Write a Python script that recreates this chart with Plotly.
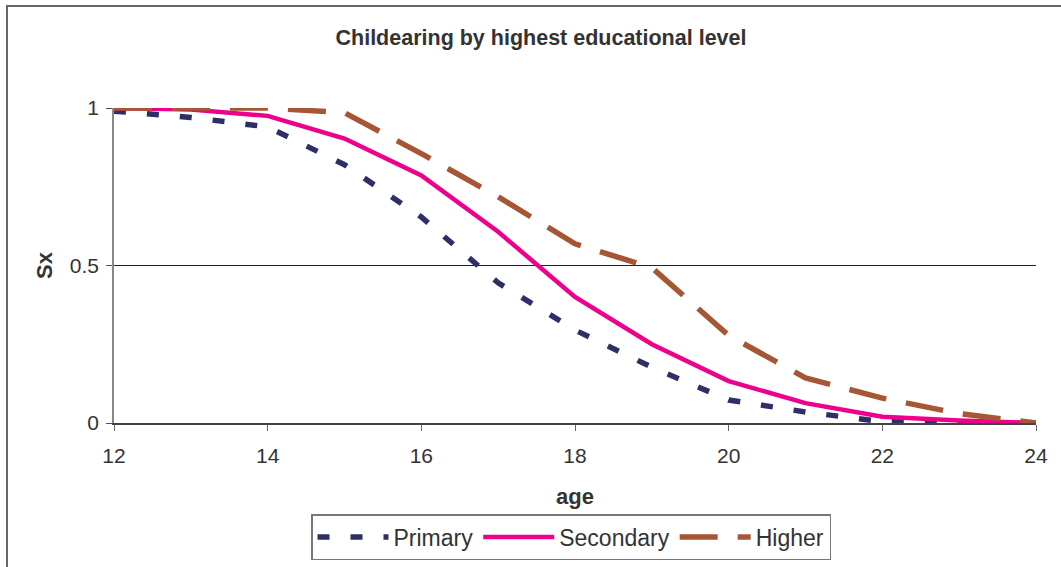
import plotly.graph_objects as go

# Survival in childlessness (Sx) by age, for each education group
ages = [12, 13, 14, 15, 16, 17, 18, 19, 20, 21, 22, 23, 24]
primary = [0.99, 0.97, 0.94, 0.82, 0.654, 0.445, 0.295, 0.177, 0.073, 0.035, 0.004, 0.0, 0.0]
secondary = [1.0, 0.995, 0.975, 0.903, 0.786, 0.607, 0.4, 0.25, 0.133, 0.063, 0.02, 0.008, 0.0]
higher = [1.0, 1.0, 1.0, 0.985, 0.855, 0.718, 0.569, 0.493, 0.278, 0.143, 0.079, 0.03, 0.0]

series = [
    ("Primary", primary, "#2E2F66", 5.5, "12px,21px"),
    ("Secondary", secondary, "#EC008C", 4.5, "solid"),
    ("Higher", higher, "#A65634", 5.5, "38px,20px"),
]

FONT = "Liberation Sans, Arial, sans-serif"
TEXT = "#333333"

fig = go.Figure()
for name, vals, color, width, dash in series:
    fig.add_trace(go.Scatter(
        x=ages, y=vals, name=name, mode="lines",
        line=dict(color=color, width=width, dash=dash),
    ))

W, H = 1061, 567
ml, mr, mt, mb = 114, 25, 108, 144
pw, ph = W - ml - mr, H - mt - mb

fig.update_layout(
    width=W, height=H,
    margin=dict(l=ml, r=mr, t=mt, b=mb, autoexpand=False),
    paper_bgcolor="white", plot_bgcolor="white",
    font=dict(family=FONT, color=TEXT, size=21),
    title=dict(
        text="<b>Childearing by highest educational level</b>",
        x=(541 - ml) / pw, xref="paper", xanchor="center",
        y=1 - 37 / H, yanchor="middle",
        font=dict(family=FONT, size=21.5, color=TEXT),
    ),
    xaxis=dict(
        range=[12, 24], tickmode="array", tickvals=[12, 14, 16, 18, 20, 22, 24],
        showgrid=False, zeroline=False, automargin=False,
        showline=True, linecolor="#444444", linewidth=1.5,
        ticks="outside", ticklen=6, tickcolor="#666666",
        ticklabelstandoff=7,
        tickfont=dict(size=21, color=TEXT),
        title=dict(text="<b>age</b>", font=dict(size=22, color=TEXT), standoff=23),
    ),
    yaxis=dict(
        range=[0, 1], tickmode="array", tickvals=[0, 0.5, 1], ticktext=["0", "0.5", "1"],
        showgrid=True, gridcolor="#222222", gridwidth=1, zeroline=False, automargin=False,
        showline=True, linecolor="#888888", linewidth=1.5,
        ticks="outside", ticklen=6, tickcolor="#555555",
        ticklabelstandoff=3,
        tickfont=dict(size=21, color=TEXT),
        title=dict(text="<b>Sx</b>", font=dict(size=22, color=TEXT), standoff=11),
    ),
    legend=dict(
        orientation="h", x=(571 - ml) / pw, xanchor="center",
        y=-(537 - mt - ph) / ph, yanchor="middle",
        bordercolor="#777777", borderwidth=1.5, bgcolor="white",
        font=dict(size=23, color=TEXT), itemwidth=71,
        tracegroupgap=0,
    ),
    showlegend=True,
)

# Outer chart frame (left and top edges visible, others run past the canvas)
fig.add_shape(
    type="rect", xref="paper", yref="paper",
    x0=(7 - ml) / pw, x1=(W + 20 - ml) / pw,
    y0=-(H + 20 - mt - ph) / ph, y1=1 + (mt - 6) / ph,
    line=dict(color="#666666", width=2), layer="below",
)

fig.write_html("out.html")
